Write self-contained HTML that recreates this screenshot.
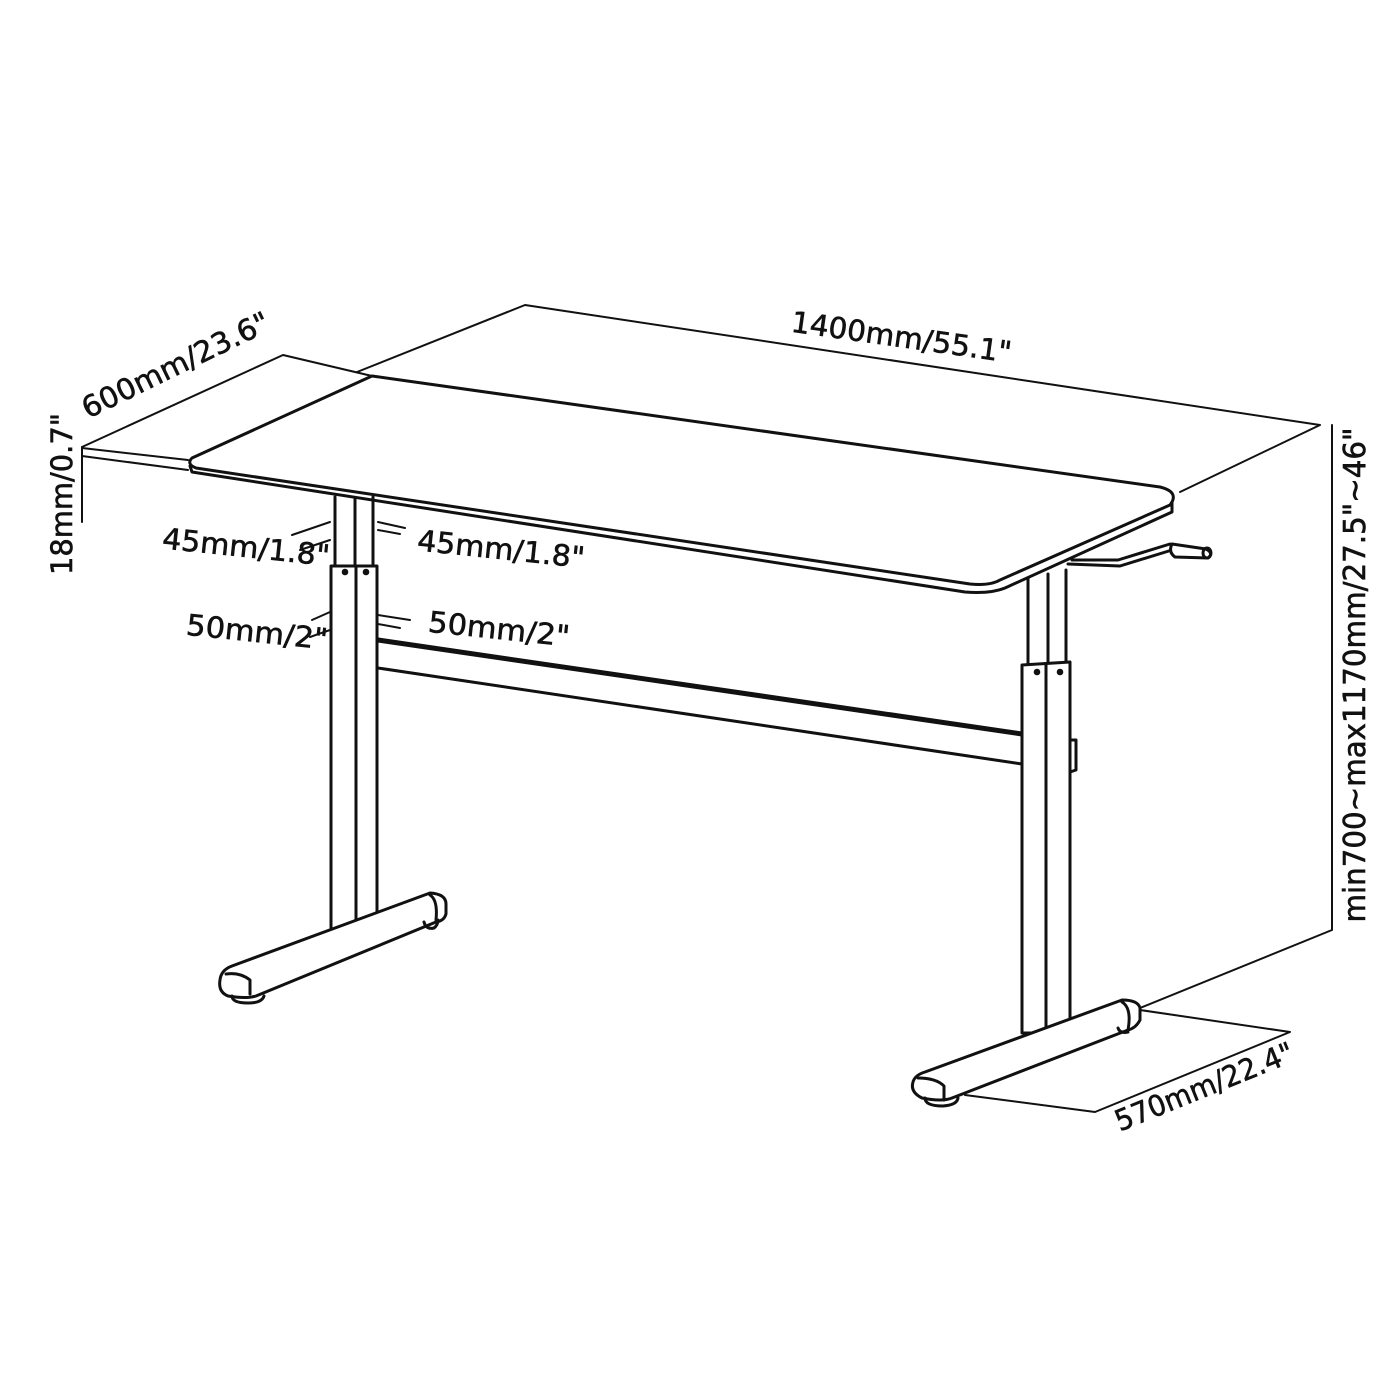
<!DOCTYPE html>
<html><head><meta charset="utf-8"><style>html,body{margin:0;padding:0;background:#fff}svg{display:block}</style></head><body>
<svg width="1400" height="1400" viewBox="0 0 1400 1400" xmlns="http://www.w3.org/2000/svg">
<g fill="none" stroke="#111" stroke-width="3" stroke-linejoin="round" stroke-linecap="round">
<g stroke-width="2">
<path d="M82,447 L283,355 L372,376"/>
<path d="M357,372 L525,305 L1320,425 L1180,492"/>
<path d="M1332,425 L1332,930 L1140,1008"/>
<path d="M1140,1010 L1290,1032 L1095,1112 L965,1095"/>
<path d="M82,447 L82,522"/>
<path d="M82,448 L188,460 M82,456 L188,470"/>
<path d="M292,535 L330,522 M330,540 L300,550 M378,522 L405,528 M378,530 L400,534"/>
<path d="M312,620 L330,612 M330,630 L310,637 M378,615 L410,620 M378,624 L400,628"/>
</g>
<path d="M192,458 L372,376 L1160,487 Q1180,492 1170,505 L1000,580 Q990,586 970,584 L196,468 Q186,464 192,458 Z" fill="#fff"/>
<path d="M190,466 L192,472 L965,592 Q990,594 1005,588 L1172,512 L1172,503"/>
<path d="M335,497 L335,566 M373,497 L373,566 M355,499 L355,566"/>
<path d="M331,566 L377,566 L377,930 L331,930 Z" fill="#fff"/>
<path d="M356,566 L356,930"/>
<circle cx="345" cy="572" r="1.8" fill="#111"/><circle cx="366" cy="572" r="1.8" fill="#111"/>
<path d="M378,640 L1022,734" stroke-width="5"/>
<path d="M378,668 L1022,764"/>
<path d="M1028,578 L1028,665 M1066,570 L1066,665 M1048,574 L1048,665"/>
<path d="M1022,665 L1070,662 L1070,1033 L1022,1033 Z" fill="#fff"/>
<path d="M1046,664 L1046,1033"/>
<circle cx="1037" cy="672" r="1.8" fill="#111"/><circle cx="1060" cy="672" r="1.8" fill="#111"/>
<path d="M1070,740 L1076,740 L1076,770 L1070,772" stroke-width="3"/>
<path d="M1068,564 L1120,566 L1172,550"/>
<path d="M1072,560 L1118,560 L1170,544"/>
<path d="M1172,544 L1206,549 Q1214,553 1208,558 L1175,557 Q1168,552 1172,544 Z" fill="#fff"/>
<ellipse cx="1207" cy="553" rx="4" ry="5"/>
<path d="M232,966 L430,893 Q446,894 446,904 L446,914 Q444,921 436,922 L256,996 Q246,999 228,996 Q218,992 220,980 Q221,970 232,966 Z" fill="#fff"/>
<path d="M226,974 Q240,972 250,980 L250,994 M430,895 Q438,900 436,920"/>
<path d="M232,996 Q232,1003 248,1003 Q262,1003 264,996"/>
<path d="M424,922 Q426,930 434,928 Q438,925 438,920"/>
<path d="M925,1072 L1122,1000 Q1138,1000 1140,1008 L1140,1020 Q1136,1028 1128,1030 L952,1098 Q942,1102 922,1098 Q910,1092 913,1082 Q915,1075 925,1072 Z" fill="#fff"/>
<path d="M918,1078 Q936,1078 944,1086 L944,1100 M1122,1002 Q1132,1008 1128,1030"/>
<path d="M925,1098 Q925,1106 943,1106 Q957,1105 958,1098"/>
<path d="M1118,1028 Q1120,1034 1128,1032"/>
</g>
<g font-family="DejaVu Sans, Liberation Sans, sans-serif" fill="#111" stroke="#111" stroke-width="0.6">
<text x="0" y="0" font-size="29" transform="translate(900,347) rotate(8)" text-anchor="middle" textLength="222" lengthAdjust="spacingAndGlyphs">1400mm/55.1"</text>
<text x="0" y="0" font-size="29" transform="translate(180,374) rotate(-26)" text-anchor="middle" textLength="205" lengthAdjust="spacingAndGlyphs">600mm/23.6"</text>
<text x="0" y="0" font-size="29" transform="translate(72,494) rotate(-90)" text-anchor="middle" textLength="162" lengthAdjust="spacingAndGlyphs">18mm/0.7"</text>
<text x="0" y="0" font-size="30" transform="translate(1365,675) rotate(-90)" text-anchor="middle" textLength="495" lengthAdjust="spacingAndGlyphs">min700~max1170mm/27.5"~46"</text>
<text x="0" y="0" font-size="29" transform="translate(1208,1096) rotate(-22)" text-anchor="middle" textLength="190" lengthAdjust="spacingAndGlyphs">570mm/22.4"</text>
<text x="0" y="0" font-size="29" transform="translate(245,557) rotate(6)" text-anchor="middle" textLength="168" lengthAdjust="spacingAndGlyphs">45mm/1.8"</text>
<text x="0" y="0" font-size="29" transform="translate(500,559) rotate(6)" text-anchor="middle" textLength="168" lengthAdjust="spacingAndGlyphs">45mm/1.8"</text>
<text x="0" y="0" font-size="29" transform="translate(256,642) rotate(6)" text-anchor="middle" textLength="142" lengthAdjust="spacingAndGlyphs">50mm/2"</text>
<text x="0" y="0" font-size="29" transform="translate(498,639) rotate(6)" text-anchor="middle" textLength="142" lengthAdjust="spacingAndGlyphs">50mm/2"</text>
</g>
</svg>
</body></html>
